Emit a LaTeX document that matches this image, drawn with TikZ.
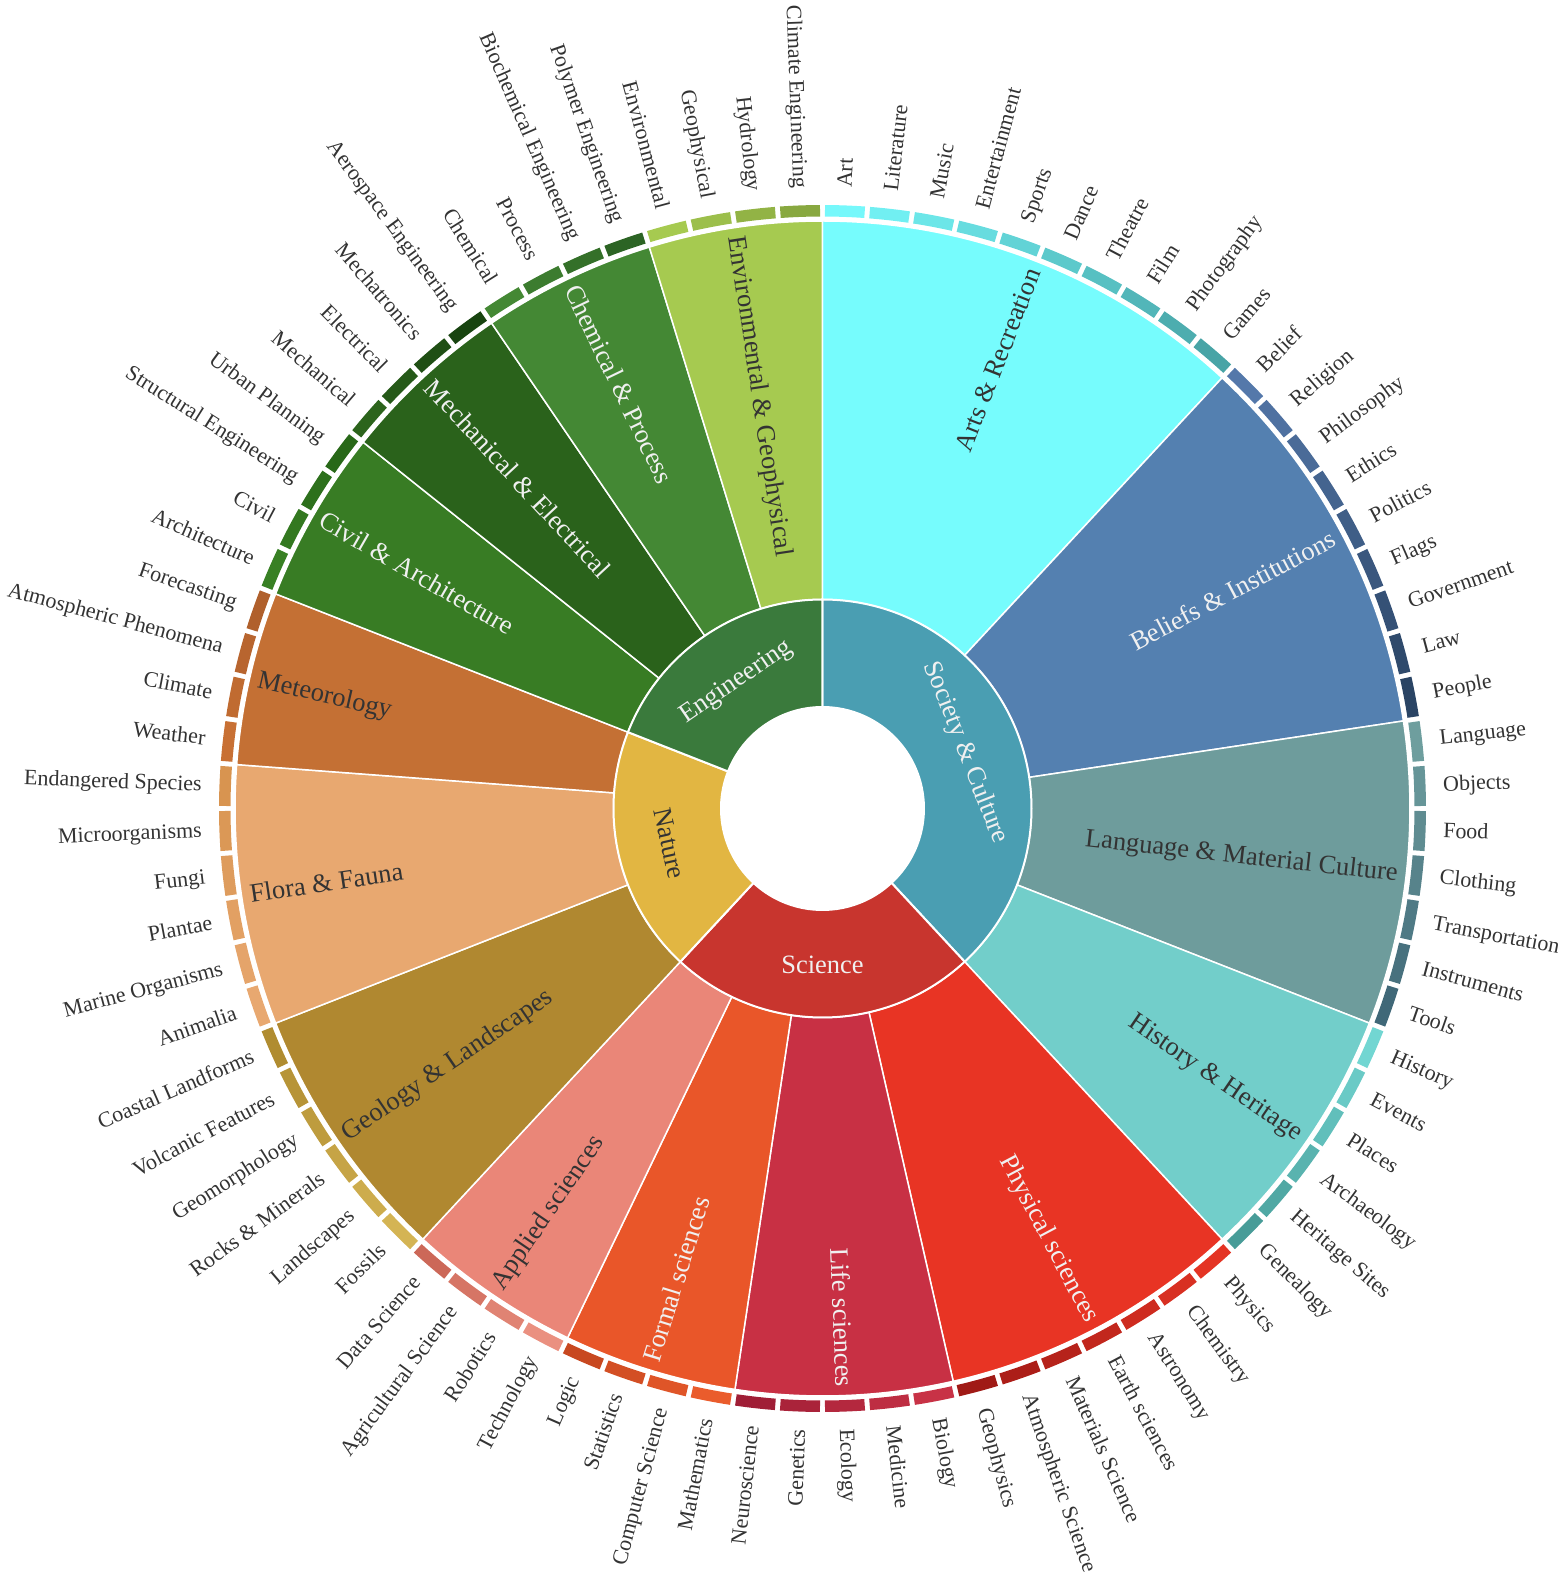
\documentclass[tikz,border=0pt]{standalone}
\usepackage{fontspec}
\setmainfont{Liberation Serif}
\definecolor{lbl}{HTML}{333333}
\definecolor{wtxt}{HTML}{F0F0F0}
% inner ring
\definecolor{cSoc}{HTML}{4A9EB2}
\definecolor{cSci}{HTML}{C8352E}
\definecolor{cNat}{HTML}{E2B642}
\definecolor{cEng}{HTML}{3A7A3C}
% middle ring
\definecolor{cArts}{HTML}{76FCFD}
\definecolor{cBel}{HTML}{5480B0}
\definecolor{cLang}{HTML}{6E9C9C}
\definecolor{cHist}{HTML}{72CECA}
\definecolor{cPhys}{HTML}{E83424}
\definecolor{cLife}{HTML}{C83044}
\definecolor{cForm}{HTML}{E95629}
\definecolor{cAppl}{HTML}{EA8678}
\definecolor{cGeol}{HTML}{B08830}
\definecolor{cFlor}{HTML}{E8A870}
\definecolor{cMete}{HTML}{C47034}
\definecolor{cCivi}{HTML}{387C24}
\definecolor{cMech}{HTML}{2A621B}
\definecolor{cChem}{HTML}{448834}
\definecolor{cEnvi}{HTML}{A6CA50}
% leaf gradients
\definecolor{aS}{HTML}{76F8FB}\definecolor{aE}{HTML}{48A4A6}
\definecolor{bS}{HTML}{5478AA}\definecolor{bE}{HTML}{2A4464}
\definecolor{lS}{HTML}{6E9E9E}\definecolor{lE}{HTML}{406878}
\definecolor{hS}{HTML}{72D6D2}\definecolor{hE}{HTML}{489C98}
\definecolor{pS}{HTML}{E43424}\definecolor{pE}{HTML}{A01A16}
\definecolor{fS}{HTML}{C83246}\definecolor{fE}{HTML}{A01E36}
\definecolor{oS}{HTML}{EA5C2C}\definecolor{oE}{HTML}{C84820}
\definecolor{qS}{HTML}{EA9080}\definecolor{qE}{HTML}{CC6858}
\definecolor{gS}{HTML}{D4B454}\definecolor{gE}{HTML}{B08C30}
\definecolor{rS}{HTML}{E8A870}\definecolor{rE}{HTML}{D89450}
\definecolor{mS}{HTML}{C87034}\definecolor{mE}{HTML}{B0602C}
\definecolor{cvS}{HTML}{388024}\definecolor{cvE}{HTML}{286818}
\definecolor{meS}{HTML}{2C641C}\definecolor{meE}{HTML}{184410}
\definecolor{chS}{HTML}{448834}\definecolor{chE}{HTML}{2C6424}
\definecolor{enS}{HTML}{A6CA50}\definecolor{enE}{HTML}{88A840}

\def\U{4.2857142857}

\newcommand\annsec[5]{%
  \pgfmathsetmacro\secAngA{90-(#1)}%
  \pgfmathsetmacro\secAngB{90-(#2)}%
  \path[#5] (\secAngA:#3) -- (\secAngA:#4) arc[start angle=\secAngA,end angle=\secAngB,radius=#4]
    -- (\secAngB:#3) arc[start angle=\secAngB,end angle=\secAngA,radius=#3] -- cycle;}

\newcommand\leafgrp[5]{%
  \foreach \nm [count=\k from 0] in {#5}{%
    \pgfmathsetmacro\tA{(#1+\k)*\U+0.24}%
    \pgfmathsetmacro\tB{(#1+\k+1)*\U-0.24}%
    \pgfmathsetmacro\tC{(#1+\k+0.5)*\U}%
    \pgfmathsetmacro\phC{90-\tC}%
    \pgfmathtruncatemacro\pct{round(100*\k/(#2-1))}%
    \colorlet{leafc}{#4!\pct!#3}%
    \annsec{\tA}{\tB}{592}{603.5}{fill=leafc}%
    \ifdim\tC pt<180pt
      \node[outlbl, anchor=west, rotate=\phC] (lf#1x\k) at (\phC:621) {\nm};
    \else
      \pgfmathsetmacro\rtC{\phC+180}%
      \node[outlbl, anchor=east, rotate=\rtC] (lf#1x\k) at (\phC:621) {\nm};
    \fi
  }}

\tikzset{
  outlbl/.style={font=\fontsize{22}{26}\selectfont, text=lbl, inner sep=0pt, text height=11.9pt, text depth=0pt},
  midlbl/.style={font=\fontsize{26.5}{30}\selectfont, inner sep=0pt, text height=15.9pt, text depth=0pt},
  inlbl/.style={font=\fontsize{26.5}{30}\selectfont, inner sep=0pt, text height=18.3pt, text depth=0pt, anchor=center},
}

\begin{document}
\begin{tikzpicture}[x=1pt,y=1pt]
\useasboundingbox (-822.5,-771.5) rectangle (739.5,808.5);

% middle ring
\foreach \s/\e/\c/\t/\tc [count=\j] in {
  0/10/cArts/Arts \& Recreation/lbl,
  10/19/cBel/Beliefs \& Institutions/wtxt,
  19/26/cLang/Language \& Material Culture/lbl,
  26/32/cHist/History \& Heritage/lbl,
  32/39/cPhys/Physical sciences/wtxt,
  39/44/cLife/Life sciences/wtxt,
  44/48/cForm/Formal sciences/wtxt,
  48/52/cAppl/Applied sciences/lbl,
  52/58/cGeol/Geology \& Landscapes/lbl,
  58/64/cFlor/Flora \& Fauna/lbl,
  64/68/cMete/Meteorology/lbl,
  68/72/cCivi/Civil \& Architecture/wtxt,
  72/76/cMech/Mechanical \& Electrical/wtxt,
  76/80/cChem/Chemical \& Process/wtxt,
  80/84/cEnvi/Environmental \& Geophysical/lbl}{%
  \annsec{\s*\U}{\e*\U}{209}{587.5}{fill=\c, draw=white, line width=1.5pt}%
  \pgfmathsetmacro\mC{(\s+\e)/2*\U}%
  \pgfmathsetmacro\mP{90-\mC}%
  \ifdim\mC pt<180pt
    \node[midlbl, text=\tc, anchor=east, rotate=\mP] (mid\j) at (\mP:579) {\t};
  \else
    \pgfmathsetmacro\mR{\mP+180}%
    \node[midlbl, text=\tc, anchor=west, rotate=\mR] (mid\j) at (\mP:579) {\t};
  \fi
}

% inner ring
\annsec{0}{32*\U}{101.5}{209}{fill=cSoc, draw=white, line width=2pt}
\annsec{32*\U}{52*\U}{101.5}{209}{fill=cSci, draw=white, line width=2pt}
\annsec{52*\U}{68*\U}{101.5}{209}{fill=cNat, draw=white, line width=2pt}
\annsec{68*\U}{84*\U}{101.5}{209}{fill=cEng, draw=white, line width=2pt}

\node[inlbl, text=wtxt, rotate=-68.571] (soc) at (21.429:156) {Society \& Culture};
\node[inlbl, text=wtxt, rotate=0] (sci) at (-90:156) {Science};
\node[inlbl, text=lbl, rotate=-77.143] (nat) at (-167.143:156) {Nature};
\node[inlbl, text=wtxt, rotate=34.286] (eng) at (124.286:156) {Engineering};

% outer ring leaves
\leafgrp{0}{10}{aS}{aE}{Art,Literature,Music,Entertainment,Sports,Dance,Theatre,Film,Photography,Games}
\leafgrp{10}{9}{bS}{bE}{Belief,Religion,Philosophy,Ethics,Politics,Flags,Government,Law,People}
\leafgrp{19}{7}{lS}{lE}{Language,Objects,Food,Clothing,Transportation,Instruments,Tools}
\leafgrp{26}{6}{hS}{hE}{History,Events,Places,Archaeology,Heritage Sites,Genealogy}
\leafgrp{32}{7}{pS}{pE}{Physics,Chemistry,Astronomy,Earth sciences,Materials Science,Atmospheric Science,Geophysics}
\leafgrp{39}{5}{fS}{fE}{Biology,Medicine,Ecology,Genetics,Neuroscience}
\leafgrp{44}{4}{oS}{oE}{Mathematics,Computer Science,Statistics,Logic}
\leafgrp{48}{4}{qS}{qE}{Technology,Robotics,Agricultural Science,Data Science}
\leafgrp{52}{6}{gS}{gE}{Fossils,Landscapes,Rocks \& Minerals,Geomorphology,Volcanic Features,Coastal Landforms}
\leafgrp{58}{6}{rS}{rE}{Animalia,Marine Organisms,Plantae,Fungi,Microorganisms,Endangered Species}
\leafgrp{64}{4}{mS}{mE}{Weather,Climate,Atmospheric Phenomena,Forecasting}
\leafgrp{68}{4}{cvS}{cvE}{Architecture,Civil,Structural Engineering,Urban Planning}
\leafgrp{72}{4}{meS}{meE}{Mechanical,Electrical,Mechatronics,Aerospace Engineering}
\leafgrp{76}{4}{chS}{chE}{Chemical,Process,Biochemical Engineering,Polymer Engineering}
\leafgrp{80}{4}{enS}{enE}{Environmental,Geophysical,Hydrology,Climate Engineering}
\end{tikzpicture}
\end{document}
